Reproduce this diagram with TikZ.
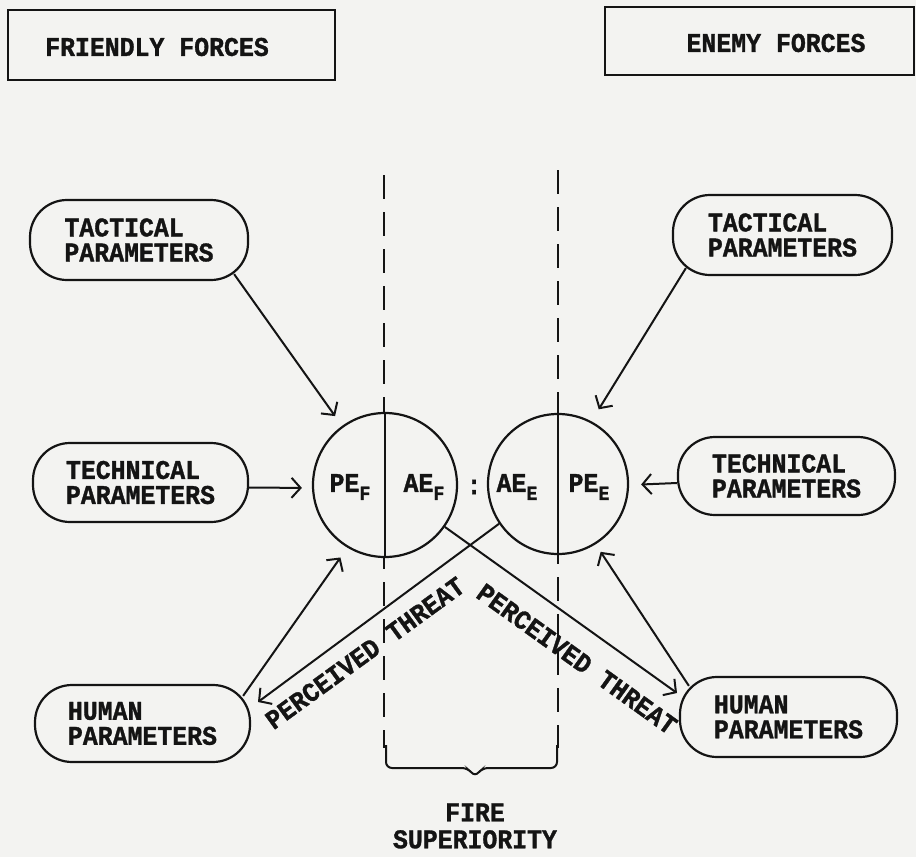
\documentclass[tikz,border=0pt]{standalone}
\usepackage{fontspec}
\setmonofont{Liberation Mono}[BoldFeatures={FakeBold=1.2}, FakeStretch=0.92]
\usetikzlibrary{arrows.meta}
\definecolor{paper}{RGB}{243,243,241}
\definecolor{ink}{RGB}{20,20,20}
\newcommand{\lowsub}[1]{\raisebox{-8pt}{\fontsize{20}{20}\selectfont #1}}
\begin{document}
\begin{tikzpicture}[x=1pt,y=-1pt,
  lbl/.style={font=\ttfamily\bfseries\fontsize{27}{25}\selectfont, text=ink},
  param/.style={draw=ink, line width=2.2pt, rounded corners=37pt, align=left, lbl, inner sep=0pt},
  forcebox/.style={draw=ink, line width=2.4pt, inner sep=0pt},
  circ/.style={draw=ink, line width=2.2pt, circle, inner sep=0pt},
  arr/.style={draw=ink, line width=2pt, -{Straight Barb[length=9pt,width=20pt,line width=2pt]}},
  thin/.style={draw=ink, line width=2pt},
  dashline/.style={draw=ink, line width=2pt, dash pattern=on 24pt off 13pt}
]
\fill[paper] (0,0) rectangle (916,857);
\useasboundingbox (0,0) rectangle (916,857);

% force boxes
\node[forcebox, minimum width=327pt, minimum height=70pt] (fbox) at (171.5,45) {};
\node[lbl] (ftext) at (157,47) {FRIENDLY FORCES};
\node[forcebox, minimum width=309pt, minimum height=68pt] (ebox) at (759.5,41) {};
\node[lbl] (etext) at (776,43) {ENEMY FORCES};

% dashed lines
\coordinate (dl1) at (384,175);
\coordinate (dl2) at (384,748);
\coordinate (dr1) at (558,170);
\coordinate (dr2) at (558,748);
\draw[dashline] (dl1) -- (dl2);
\draw[dashline] (dr1) -- (dr2);

% circles
\node[circ, fill=paper, minimum size=144pt] (cf) at (385,485) {};
\node[circ, fill=paper, minimum size=140pt] (ce) at (558,484) {};
\draw[thin] (cf.north) -- (cf.south);
\draw[thin] (ce.north) -- (ce.south);
\node[lbl] (pef) at (350,487) {PE\lowsub{F}};
\node[lbl] (aef) at (424,487) {AE\lowsub{F}};
\node[lbl] (colon) at (474,487) {:};
\node[lbl] (aee) at (517,487) {AE\lowsub{E}};
\node[lbl] (pee) at (589,487) {PE\lowsub{E}};

% parameter nodes
\node[param, minimum width=218pt, minimum height=80pt] (lt) at (139,240) {TACTICAL\\PARAMETERS};
\node[param, minimum width=215pt, minimum height=79pt] (ltc) at (140.5,482.5) {TECHNICAL\\PARAMETERS};
\node[param, minimum width=215pt, minimum height=77pt] (lh) at (142.5,723.5) {HUMAN\\PARAMETERS};
\node[param, minimum width=219pt, minimum height=80pt] (rt) at (782.5,235) {TACTICAL\\PARAMETERS};
\node[param, minimum width=217pt, minimum height=78pt] (rtc) at (786.5,476) {TECHNICAL\\PARAMETERS};
\node[param, minimum width=217pt, minimum height=80pt] (rh) at (788.5,717) {HUMAN\\PARAMETERS};

% arrows into circles
\draw[arr, shorten >=12pt] ([xshift=-15pt,yshift=7pt]lt.south east) -- (cf.126);
\draw[arr, shorten >=10pt] ([yshift=-5pt]ltc.east) -- ([yshift=-3pt]cf.west);
\draw[arr, shorten >=12pt] ([xshift=-8pt,yshift=-12pt]lh.north east) -- (cf.239);
\draw[arr, shorten >=14pt] ([xshift=14pt,yshift=8pt]rt.south west) -- (ce.62);
\draw[arr, shorten >=12pt] ([yshift=-7pt]rtc.west) -- ([yshift=-1pt]ce.east);
\draw[arr, shorten >=9pt] ([xshift=10pt,yshift=-10pt]rh.north west) -- (ce.302);

% perceived threat
\coordinate (ta) at (258,702);
\coordinate (tb) at (677,693);
\draw[arr] (ce.214) -- (ta);
\draw[arr] (cf.-35) -- (tb);
\node[lbl, rotate=36] (pta) at (365,653) {PERCEIVED THREAT};
\node[lbl, rotate=-35.6] (ptb) at (577,659) {PERCEIVED THREAT};

% brace
\draw[thin, rounded corners=6pt] (386,745) -- (386,768) -- (468,768) -- (475,777) -- (482,768) -- (557,768) -- (557,745);

\node[lbl, align=center, font=\ttfamily\bfseries\fontsize{27}{27}\selectfont] (fs) at (475,826) {FIRE\\SUPERIORITY};
\end{tikzpicture}
\end{document}
